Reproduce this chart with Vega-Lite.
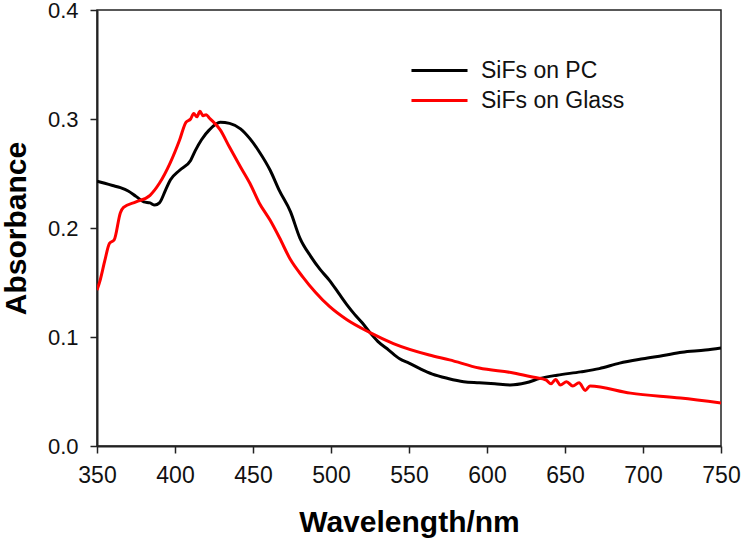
{
  "$schema": "https://vega.github.io/schema/vega-lite/v6.json",
  "width": 624,
  "height": 436,
  "autosize": {"type": "none"},
  "padding": {"left": 97, "top": 10, "right": 20, "bottom": 98},
  "background": "white",
  "config": {
    "view": {"stroke": "#222", "strokeWidth": 1.5},
    "font": "Liberation Sans"
  },
  "data": {
    "values": [
      {"s": "SiFs on PC", "w": 350, "a": 0.243},
      {"s": "SiFs on PC", "w": 355, "a": 0.241},
      {"s": "SiFs on PC", "w": 360, "a": 0.239},
      {"s": "SiFs on PC", "w": 365, "a": 0.237},
      {"s": "SiFs on PC", "w": 370, "a": 0.234},
      {"s": "SiFs on PC", "w": 375, "a": 0.229},
      {"s": "SiFs on PC", "w": 380, "a": 0.224},
      {"s": "SiFs on PC", "w": 384, "a": 0.223},
      {"s": "SiFs on PC", "w": 387, "a": 0.221},
      {"s": "SiFs on PC", "w": 390, "a": 0.223},
      {"s": "SiFs on PC", "w": 394, "a": 0.235},
      {"s": "SiFs on PC", "w": 397, "a": 0.244},
      {"s": "SiFs on PC", "w": 403, "a": 0.253},
      {"s": "SiFs on PC", "w": 410, "a": 0.262},
      {"s": "SiFs on PC", "w": 413, "a": 0.271},
      {"s": "SiFs on PC", "w": 417, "a": 0.281},
      {"s": "SiFs on PC", "w": 422, "a": 0.290},
      {"s": "SiFs on PC", "w": 429, "a": 0.297},
      {"s": "SiFs on PC", "w": 435, "a": 0.296},
      {"s": "SiFs on PC", "w": 442, "a": 0.291},
      {"s": "SiFs on PC", "w": 448, "a": 0.282},
      {"s": "SiFs on PC", "w": 454, "a": 0.270},
      {"s": "SiFs on PC", "w": 461, "a": 0.253},
      {"s": "SiFs on PC", "w": 467, "a": 0.234},
      {"s": "SiFs on PC", "w": 474, "a": 0.215},
      {"s": "SiFs on PC", "w": 480, "a": 0.191},
      {"s": "SiFs on PC", "w": 487, "a": 0.174},
      {"s": "SiFs on PC", "w": 493, "a": 0.162},
      {"s": "SiFs on PC", "w": 499, "a": 0.152},
      {"s": "SiFs on PC", "w": 505, "a": 0.140},
      {"s": "SiFs on PC", "w": 510, "a": 0.130},
      {"s": "SiFs on PC", "w": 515, "a": 0.121},
      {"s": "SiFs on PC", "w": 520, "a": 0.113},
      {"s": "SiFs on PC", "w": 525, "a": 0.104},
      {"s": "SiFs on PC", "w": 530, "a": 0.096},
      {"s": "SiFs on PC", "w": 537, "a": 0.088},
      {"s": "SiFs on PC", "w": 544, "a": 0.080},
      {"s": "SiFs on PC", "w": 550, "a": 0.076},
      {"s": "SiFs on PC", "w": 557, "a": 0.071},
      {"s": "SiFs on PC", "w": 565, "a": 0.066},
      {"s": "SiFs on PC", "w": 575, "a": 0.062},
      {"s": "SiFs on PC", "w": 585, "a": 0.059},
      {"s": "SiFs on PC", "w": 595, "a": 0.058},
      {"s": "SiFs on PC", "w": 605, "a": 0.057},
      {"s": "SiFs on PC", "w": 615, "a": 0.056},
      {"s": "SiFs on PC", "w": 625, "a": 0.058},
      {"s": "SiFs on PC", "w": 634, "a": 0.062},
      {"s": "SiFs on PC", "w": 645, "a": 0.065},
      {"s": "SiFs on PC", "w": 660, "a": 0.068},
      {"s": "SiFs on PC", "w": 672, "a": 0.071},
      {"s": "SiFs on PC", "w": 685, "a": 0.076},
      {"s": "SiFs on PC", "w": 700, "a": 0.080},
      {"s": "SiFs on PC", "w": 713, "a": 0.083},
      {"s": "SiFs on PC", "w": 725, "a": 0.086},
      {"s": "SiFs on PC", "w": 740, "a": 0.088},
      {"s": "SiFs on PC", "w": 750, "a": 0.090},
      {"s": "SiFs on Glass", "w": 350, "a": 0.143},
      {"s": "SiFs on Glass", "w": 352, "a": 0.152},
      {"s": "SiFs on Glass", "w": 355, "a": 0.170},
      {"s": "SiFs on Glass", "w": 358, "a": 0.186},
      {"s": "SiFs on Glass", "w": 361, "a": 0.189},
      {"s": "SiFs on Glass", "w": 365, "a": 0.214},
      {"s": "SiFs on Glass", "w": 367, "a": 0.219},
      {"s": "SiFs on Glass", "w": 375, "a": 0.224},
      {"s": "SiFs on Glass", "w": 384, "a": 0.230},
      {"s": "SiFs on Glass", "w": 390, "a": 0.241},
      {"s": "SiFs on Glass", "w": 397, "a": 0.260},
      {"s": "SiFs on Glass", "w": 403, "a": 0.281},
      {"s": "SiFs on Glass", "w": 407, "a": 0.297},
      {"s": "SiFs on Glass", "w": 410, "a": 0.300},
      {"s": "SiFs on Glass", "w": 412, "a": 0.305},
      {"s": "SiFs on Glass", "w": 414, "a": 0.302},
      {"s": "SiFs on Glass", "w": 416, "a": 0.307},
      {"s": "SiFs on Glass", "w": 418, "a": 0.303},
      {"s": "SiFs on Glass", "w": 420, "a": 0.304},
      {"s": "SiFs on Glass", "w": 422, "a": 0.301},
      {"s": "SiFs on Glass", "w": 429, "a": 0.290},
      {"s": "SiFs on Glass", "w": 435, "a": 0.274},
      {"s": "SiFs on Glass", "w": 442, "a": 0.256},
      {"s": "SiFs on Glass", "w": 448, "a": 0.241},
      {"s": "SiFs on Glass", "w": 454, "a": 0.223},
      {"s": "SiFs on Glass", "w": 461, "a": 0.207},
      {"s": "SiFs on Glass", "w": 467, "a": 0.191},
      {"s": "SiFs on Glass", "w": 474, "a": 0.171},
      {"s": "SiFs on Glass", "w": 482, "a": 0.155},
      {"s": "SiFs on Glass", "w": 490, "a": 0.141},
      {"s": "SiFs on Glass", "w": 499, "a": 0.128},
      {"s": "SiFs on Glass", "w": 510, "a": 0.116},
      {"s": "SiFs on Glass", "w": 525, "a": 0.104},
      {"s": "SiFs on Glass", "w": 540, "a": 0.094},
      {"s": "SiFs on Glass", "w": 563, "a": 0.0835},
      {"s": "SiFs on Glass", "w": 576, "a": 0.079},
      {"s": "SiFs on Glass", "w": 595, "a": 0.0715},
      {"s": "SiFs on Glass", "w": 617, "a": 0.067},
      {"s": "SiFs on Glass", "w": 630, "a": 0.063},
      {"s": "SiFs on Glass", "w": 638, "a": 0.0605},
      {"s": "SiFs on Glass", "w": 641, "a": 0.057},
      {"s": "SiFs on Glass", "w": 644, "a": 0.061},
      {"s": "SiFs on Glass", "w": 647, "a": 0.056},
      {"s": "SiFs on Glass", "w": 651, "a": 0.059},
      {"s": "SiFs on Glass", "w": 655, "a": 0.055},
      {"s": "SiFs on Glass", "w": 659, "a": 0.058},
      {"s": "SiFs on Glass", "w": 663, "a": 0.051},
      {"s": "SiFs on Glass", "w": 666, "a": 0.055},
      {"s": "SiFs on Glass", "w": 692, "a": 0.0485},
      {"s": "SiFs on Glass", "w": 724, "a": 0.044},
      {"s": "SiFs on Glass", "w": 750, "a": 0.0395}
    ]
  },
  "mark": {"type": "line", "strokeWidth": 3, "clip": true, "interpolate": "monotone"},
  "encoding": {
    "x": {
      "field": "w", "type": "quantitative",
      "scale": {"domain": [350, 750], "nice": false},
      "axis": {
        "title": "Wavelength/nm", "values": [350, 400, 450, 500, 550, 600, 650, 700, 750],
        "grid": false, "domainColor": "#222", "domainWidth": 2, "tickColor": "#222", "tickWidth": 1.5, "tickSize": 7,
        "labelFontSize": 23, "labelColor": "#111", "labelPadding": 11, "labelFlush": false, "labelOverlap": false,
        "titleFontSize": 30, "titleFontWeight": "bold", "titleColor": "#000", "titlePadding": 20
      }
    },
    "y": {
      "field": "a", "type": "quantitative",
      "scale": {"domain": [0, 0.4], "nice": false},
      "axis": {
        "title": "Absorbance", "values": [0, 0.1, 0.2, 0.3, 0.4], "format": ".1f",
        "grid": false, "domainColor": "#222", "domainWidth": 2, "tickColor": "#222", "tickWidth": 1.5, "tickSize": 7,
        "labelFontSize": 22, "labelColor": "#111", "labelPadding": 12, "labelFlush": false,
        "titleFontSize": 30, "titleFontWeight": "bold", "titleColor": "#000", "titlePadding": 16
      }
    },
    "color": {
      "field": "s", "type": "nominal",
      "scale": {"domain": ["SiFs on PC", "SiFs on Glass"], "range": ["#000000", "#ff0000"]},
      "legend": {
        "title": null, "orient": "none", "legendX": 331, "legendY": 49,
        "symbolType": "M-3,0H3", "symbolSize": 349, "symbolStrokeWidth": 3, "symbolFillColor": "transparent",
        "labelFontSize": 23, "labelColor": "#111", "labelOffset": 30, "rowPadding": 6
      }
    }
  }
}
